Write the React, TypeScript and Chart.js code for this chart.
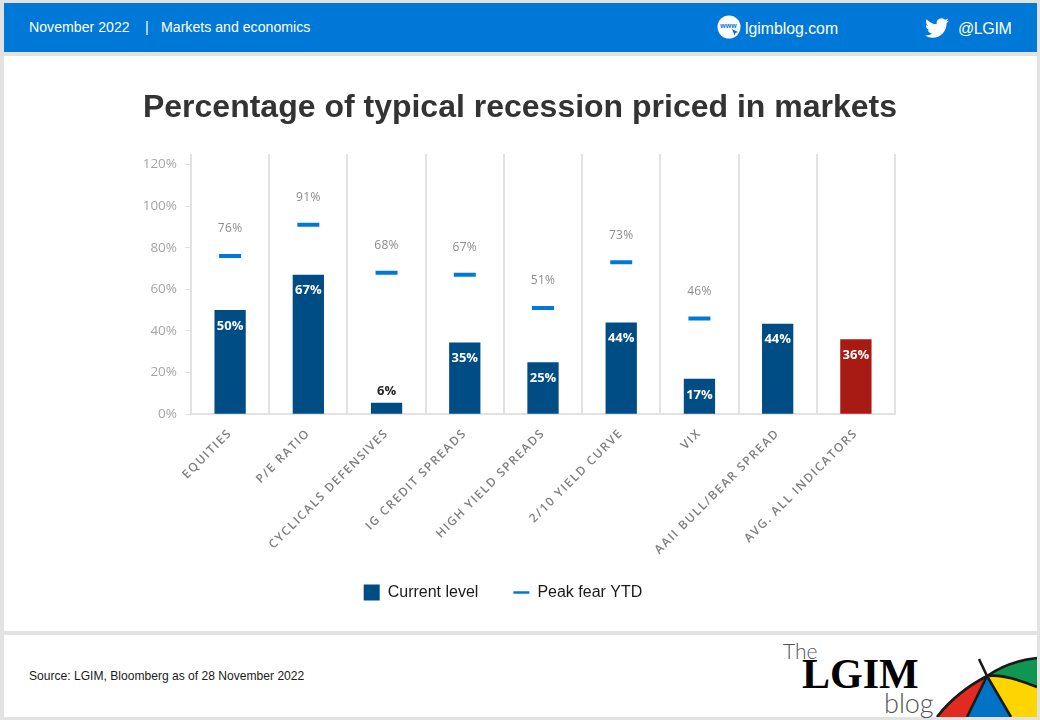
import React, { useEffect, useRef } from "react";
import { Chart, registerables } from "chart.js";

Chart.register(...registerables);

const categories = ["EQUITIES", "P/E RATIO", "CYCLICALS DEFENSIVES", "IG CREDIT SPREADS", "HIGH YIELD SPREADS", "2/10 YIELD CURVE", "VIX", "AAII BULL/BEAR SPREAD", "AVG. ALL INDICATORS"];
const currentLevel = [50, 67, 5.5, 34.5, 25, 44, 17, 43.5, 36];
const peakFear = [76, 91, 68, 67, 51, 73, 46, null, null];
const chartTitle = "Percentage of typical recession priced in markets";
const NAVY = "#004c84";
const RED = "#a81a14";
const BLUE = "#0078d7";
const barColors = currentLevel.map((_, i) => (i === categories.length - 1 ? RED : NAVY));

const helperPlugin = {
  id: "helper",
  afterLayout(chart: any) {
    if (chart.titleBlock) { chart.titleBlock.left = 0; chart.titleBlock.right = 1040; }
    const x = chart.scales.x;
    if (!x.__patched) {
      const orig = x.drawLabels;
      x._computeLabelArea = () => null;
      x.drawLabels = function (area: any) {
        const c = chart.ctx; c.letterSpacing = "1.5px"; orig.call(x, area); c.letterSpacing = "0px";
      };
      x.__patched = true;
    }
  },
  afterDatasetsDraw(chart: any) {
    const { ctx } = chart;
    const bars = chart.getDatasetMeta(0).data;
    const pts = chart.getDatasetMeta(1).data;
    ctx.save();
    ctx.textAlign = "center";
    ctx.textBaseline = "middle";
    currentLevel.forEach((v, i) => {
      const b = bars[i];
      const label = Math.round(v) + "%";
      ctx.font = "bold 13px 'Open Sans'";
      if (v < 10) { ctx.fillStyle = "#262626"; ctx.fillText(label, b.x, b.y - 11); }
      else { ctx.fillStyle = "#ffffff"; ctx.fillText(label, b.x, b.y + 16); }
      const p = peakFear[i];
      if (p !== null) {
        ctx.font = "12px 'Open Sans'";
        ctx.fillStyle = "#8c8c8c";
        ctx.letterSpacing = "0.3px";
        ctx.fillText(p + "%", pts[i].x, pts[i].y - 27);
        ctx.letterSpacing = "0px";
      }
    });
    ctx.restore();
  },
};

export default function App() {
  const ref = useRef<HTMLCanvasElement>(null);
  useEffect(() => {
    const chart = new Chart(ref.current as HTMLCanvasElement, {
      type: "bar",
      data: {
        labels: categories,
        datasets: [
          { type: "bar", label: "Current level", data: currentLevel, backgroundColor: barColors, barPercentage: 0.4, categoryPercentage: 1, order: 2 },
          { type: "line", label: "Peak fear YTD", data: peakFear, showLine: false, pointStyle: "line", pointRadius: 11, pointHoverRadius: 11, pointBorderWidth: 4, pointBorderColor: BLUE, borderColor: BLUE, backgroundColor: BLUE, order: 1 },
        ],
      } as any,
      options: {
        animation: false,
        responsive: false,
        layout: { padding: { left: 111, right: 145, top: 0, bottom: 109.4 } },
        plugins: {
          tooltip: { enabled: false },
          title: {
            display: true,
            text: chartTitle,
            color: "#333333",
            font: { family: "'Liberation Sans'", size: 32, weight: "bold" },
            padding: { top: 89, bottom: 26.6 },
          },
          legend: {
            position: "bottom",
            labels: {
              font: { family: "'Liberation Sans'", size: 16 },
              color: "#1a1a1a",
              usePointStyle: true,
              boxWidth: 16,
              boxHeight: 16,
              pointStyleWidth: 16,
              padding: 35,
              generateLabels: () => [
                { text: "Current level", fillStyle: NAVY, strokeStyle: NAVY, lineWidth: 0, pointStyle: "rect", datasetIndex: 0, fontColor: "#1a1a1a" },
                { text: "Peak fear YTD", fillStyle: BLUE, strokeStyle: BLUE, lineWidth: 2.5, pointStyle: "line", datasetIndex: 1, fontColor: "#1a1a1a" },
              ],
            },
          },
        },
        scales: {
          x: {
            offset: true,
            grid: { color: "#e2e2e2", lineWidth: 2, tickLength: 0, drawTicks: false },
            border: { color: "#e2e2e2", width: 2 },
            ticks: { minRotation: 45, maxRotation: 45, autoSkip: false, padding: 12, color: "#7f7f7f", font: { family: "'Open Sans'", size: 12, weight: "600" } },
            afterFit: (s: any) => { s.height = 135.4; },
          },
          y: {
            min: 0,
            max: 125,
            grid: { drawOnChartArea: false, color: "#e2e2e2", tickLength: 6 },
            border: { display: false },
            ticks: { stepSize: 20, includeBounds: false, padding: 8, color: "#a6a6a6", font: { family: "'Open Sans'", size: 13.5 }, callback: (v: any) => v + "%" },
            afterFit: (s: any) => { s.width = 80; },
          },
        },
      } as any,
      plugins: [helperPlugin],
    });
    return () => chart.destroy();
  }, []);

  const abs = (l: number, t: number, extra: any = {}): any => ({ position: "absolute", left: l, top: t, whiteSpace: "nowrap", ...extra });
  return (
    <div style={{ position: "absolute", left: 0, top: 0, width: 1040, height: 720, background: "#e2e2e2", overflow: "hidden", fontFamily: "'Liberation Sans', Arial, sans-serif" }}>
      <div style={abs(4, 3, { width: 1033, height: 49, background: "#0078d7" })} />
      <div style={abs(4, 56, { width: 1033, height: 575, background: "#fff" })} />
      <div style={abs(4, 635, { width: 1033, height: 82, background: "#fff" })} />
      <div style={abs(29, 19, { color: "#fff", fontSize: 14.15, lineHeight: "17px" })}>November 2022</div>
      <div style={abs(145, 19, { color: "#fff", fontSize: 14.15, lineHeight: "17px" })}>|</div>
      <div style={abs(161, 19, { color: "#fff", fontSize: 14.15, lineHeight: "17px" })}>Markets and economics</div>
      <svg style={abs(717, 15)} width="24" height="24" viewBox="0 0 24 24">
        <circle cx="12" cy="12" r="11.5" fill="#fff" />
        <text x="11.5" y="13" textAnchor="middle" fontSize="7" fontWeight="bold" fill="#0078d7" fontFamily="'Liberation Sans'">www</text>
        <path d="M15 14l6 3-2.5 1 -1 2.5z" fill="#0078d7" />
      </svg>
      <div style={abs(745, 19, { color: "#fff", fontSize: 15.8, lineHeight: "19px" })}>lgimblog.com</div>
      <svg style={abs(925, 16)} width="24" height="24" viewBox="0 0 24 24">
        <path fill="#fff" d="M23.953 4.57a10 10 0 01-2.825.775 4.958 4.958 0 002.163-2.723c-.951.555-2.005.959-3.127 1.184a4.92 4.92 0 00-8.384 4.482C7.69 8.095 4.067 6.13 1.64 3.162a4.822 4.822 0 00-.666 2.475c0 1.71.87 3.213 2.188 4.096a4.904 4.904 0 01-2.228-.616v.06a4.923 4.923 0 003.946 4.827 4.996 4.996 0 01-2.212.085 4.936 4.936 0 004.604 3.417 9.867 9.867 0 01-6.102 2.105c-.39 0-.779-.023-1.17-.067a13.995 13.995 0 007.557 2.209c9.053 0 13.998-7.496 13.998-13.985 0-.21 0-.42-.015-.63A9.935 9.935 0 0024 4.59z" />
      </svg>
      <div style={abs(958, 19, { color: "#fff", fontSize: 16, lineHeight: "19px", letterSpacing: "-0.4px" })}>@LGIM</div>
      <div style={abs(29, 669, { color: "#1a1a1a", fontSize: 12.08, lineHeight: "14px" })}>Source: LGIM, Bloomberg as of 28 November 2022</div>
      <div style={abs(783, 638, { color: "#555", fontSize: 21, lineHeight: "26px", fontFamily: "Lato", fontWeight: 300 })}>The</div>
      <div style={abs(802, 653, { color: "#000", fontSize: 42, lineHeight: "42px", fontFamily: "'Liberation Serif'", fontWeight: "bold" })}>LGIM</div>
      <div style={abs(884, 687, { color: "#555", fontSize: 27, lineHeight: "32px", fontFamily: "Lato", fontWeight: 300 })}>blog</div>
      <svg style={abs(930, 650)} width="107" height="67" viewBox="930 650 107 67">
        <path d="M987 676 C1000 667 1018 660 1037 658 V687 C1020 680 1002 674 987 676Z" fill="#0f9650" />
        <path d="M987 676 C1002 674 1020 680 1037 687 V717 H1011Z" fill="#ffd500" />
        <path d="M987 676 L1011 717 H967Z" fill="#0073c4" />
        <path d="M987 676 L967 717 H937 C950 700 968 686 987 676Z" fill="#e22b20" />
        <path d="M937 717 C950 700 968 686 987 676 C1000 667 1018 660 1037 658 M987 676 L979 659 M987 676 L967 717 M987 676 L1011 717 M987 676 C1002 674 1020 680 1037 687" fill="none" stroke="#1a1a1a" strokeWidth="2.6" />
      </svg>
      <canvas ref={ref} width={1040} height={720} style={{ position: "absolute", left: 0, top: 0, width: 1040, height: 720 }} />
    </div>
  );
}
